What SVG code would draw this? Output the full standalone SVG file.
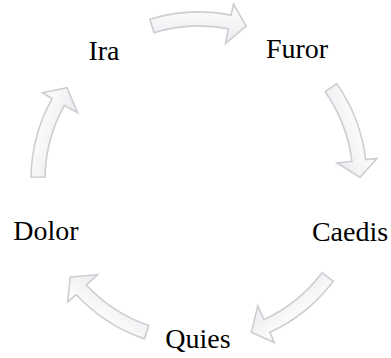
<svg xmlns="http://www.w3.org/2000/svg" width="391" height="358" viewBox="0 0 391 358">
<style>
.lbl{font-family:"Liberation Serif","Times New Roman",serif;font-size:28px;fill:#000;text-anchor:middle}
.arr{fill:url(#g);stroke:#cdcdd3;stroke-width:1.6;stroke-linejoin:miter}
</style>
<defs>
<linearGradient id="g" x1="0" y1="0" x2="0" y2="1">
<stop offset="0" stop-color="#ffffff"/>
<stop offset="1" stop-color="#ebebee"/>
</linearGradient>
<path id="a" d="M -49.1 -160.7 A 168 168 0 0 1 32.1 -164.9 L 34.6 -175.8 L 47.1 -154 L 26.5 -136.4 L 29.4 -151.2 A 154 154 0 0 0 -45.0 -147.3 Z"/>
</defs>
<g id="connectors">
<use href="#a" class="arr" transform="translate(199,180) rotate(0)"/>
<use href="#a" class="arr" transform="translate(199,180) rotate(72)"/>
<use href="#a" class="arr" transform="translate(199,180) rotate(144)"/>
<use href="#a" class="arr" transform="translate(199,180) rotate(216)"/>
<use href="#a" class="arr" transform="translate(199,180) rotate(288)"/>
</g>
<g id="ira"><text class="lbl" x="104" y="60">Ira</text></g>
<g id="furor"><text class="lbl" x="297" y="58">Furor</text></g>
<g id="caedis"><text class="lbl" x="350" y="241">Caedis</text></g>
<g id="quies"><text class="lbl" x="198" y="348">Quies</text></g>
<g id="dolor"><text class="lbl" x="46" y="240">Dolor</text></g>
</svg>
